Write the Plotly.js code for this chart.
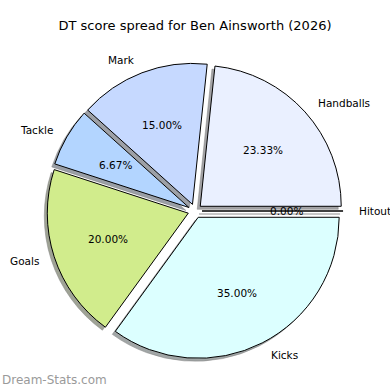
<!DOCTYPE html>
<html>
<head>
<meta charset="utf-8">
<script src="https://cdn.plot.ly/plotly-3.0.1.min.js"></script>
<style>html,body{margin:0;padding:0;background:#fff;}#chart{width:390px;height:390px;}</style>
</head>
<body>
<div id="chart"></div>
<script>
// ---- data ----
const categories = ["Handballs", "Mark", "Tackle", "Goals", "Kicks", "Hitout"];
const dtPoints = [14, 9, 4, 12, 21, 0];
const sliceColors = ["#eaf0ff", "#c6d9ff", "#b3d5ff", "#d1ec8c", "#dcffff", "#e0e0ff"];
const titleText = "DT score spread for Ben Ainsworth (2026)";
const watermark = "Dream-Stats.com";

// ---- geometry (layout only) ----
const W = 390, H = 390;
const CX = 195, CY = 211, R = 141, PULL = 0.05;
const SHX = -3, SHY = 3;

function domainFor(cx, cy) {
  const half = R * (1 + PULL);
  return {x: [(cx - half) / W, (cx + half) / W], y: [1 - (cy + half) / H, 1 - (cy - half) / H]};
}

function hexToRgb(h) {
  return [parseInt(h.slice(1, 3), 16), parseInt(h.slice(3, 5), 16), parseInt(h.slice(5, 7), 16)];
}
const shadowColors = sliceColors.map(c => {
  const rgb = hexToRgb(c).map(v => Math.round(255 * (0.5 + 0.15 * v / 255)));
  return "rgb(" + rgb.join(",") + ")";
});

const total = dtPoints.reduce((a, b) => a + b, 0);
const pulls = categories.map(() => PULL);
// plotly anchors the END of the first counterclockwise slice at `rotation`;
// we want the first slice to START at 3 o'clock like matplotlib
const rot = 90 - 360 * dtPoints[0] / total;

const shadow = {
  type: "pie", labels: categories, values: dtPoints, sort: false,
  direction: "counterclockwise", rotation: rot, pull: pulls,
  domain: domainFor(CX + SHX, CY + SHY),
  marker: {colors: shadowColors, line: {color: "rgba(130,130,130,0.5)", width: 1}},
  textinfo: "none", hoverinfo: "skip", showlegend: false
};
const main = {
  type: "pie", labels: categories, values: dtPoints, sort: false,
  direction: "counterclockwise", rotation: rot, pull: pulls,
  domain: domainFor(CX, CY),
  marker: {colors: sliceColors, line: {color: "#000", width: 1}},
  textinfo: "none", showlegend: false
};

// labels computed from data like matplotlib (labeldistance 1.1, pctdistance 0.6)
const annotations = [];
let cum = 0;
const font = {family: "DejaVu Sans, sans-serif", size: 10.5, color: "#000"};
dtPoints.forEach((v, i) => {
  const theta = 2 * Math.PI * (cum + v / 2) / total;
  cum += v;
  const c = Math.cos(theta), s = Math.sin(theta);
  const ox = CX + PULL * R * c, oy = CY - PULL * R * s;
  const lx = ox + 1.1 * R * c, ly = oy - 1.1 * R * s;
  const px = ox + 0.6 * R * c, py = oy - 0.6 * R * s;
  annotations.push({
    x: lx / W, y: 1 - ly / H, xref: "paper", yref: "paper",
    text: categories[i], showarrow: false, xanchor: lx > ox ? "left" : "right", yanchor: "middle", font: font
  });
  annotations.push({
    x: px / W, y: 1 - py / H, xref: "paper", yref: "paper",
    text: (100 * v / total).toFixed(2) + "%", showarrow: false, xanchor: "center", yanchor: "middle", font: font
  });
});
annotations.push({
  x: 0, y: 1 - 380 / H, xref: "paper", yref: "paper", text: watermark, showarrow: false,
  xanchor: "left", yanchor: "middle", font: {family: "DejaVu Sans, sans-serif", size: 12, color: "#9a9a9a"}
});

const layout = {
  width: W, height: H,
  margin: {l: 0, r: 0, t: 0, b: 0},
  paper_bgcolor: "#fff", plot_bgcolor: "#fff",
  title: {text: titleText, x: 0.5, xanchor: "center", y: 1 - 25 / H, yanchor: "middle",
          font: {family: "DejaVu Sans, sans-serif", size: 13, color: "#000"}},
  annotations: annotations,
  showlegend: false
};

Plotly.newPlot("chart", [shadow, main], layout, {staticPlot: true, displayModeBar: false});
</script>
</body>
</html>
